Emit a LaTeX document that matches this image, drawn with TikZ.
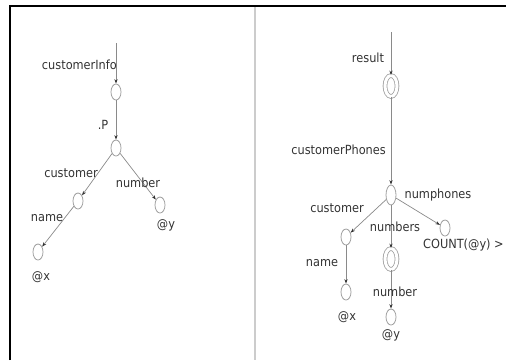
\documentclass[tikz,border=0pt]{standalone}
\usepackage{fontspec}
\setmainfont{DejaVu Sans Condensed}
\usetikzlibrary{shapes.geometric,arrows.meta}
\definecolor{edgegray}{HTML}{8A8A8A}
\definecolor{nodegray}{HTML}{A0A0A0}
\definecolor{textgray}{HTML}{333333}
\definecolor{divgray}{HTML}{CCCCCC}
\tikzset{
  vnode/.style={ellipse, draw=nodegray, line width=0.8pt, fill=white,
    minimum width=10pt, minimum height=16pt, inner sep=0pt},
  dnode/.style={ellipse, draw=nodegray, line width=0.8pt, fill=white,
    double=white, double distance=3pt,
    minimum width=12pt, minimum height=21pt, inner sep=0pt},
  lbl/.style={text=textgray, font=\fontsize{12.6}{14}\selectfont, inner sep=0pt},
  link/.style={draw=edgegray, line width=0.7pt,
    -{Stealth[length=4.5pt,width=3.2pt,color=textgray]}}
}
\begin{document}
\begin{tikzpicture}[x=1pt,y=-1pt]
\useasboundingbox (0,0) rectangle (506,360);
% frame and divider
\draw[divgray, line width=2pt] (255,7) -- (255,360);
\draw[black, line width=2.5pt] (10,360) -- (10,6) -- (506,6);

% ---- left tree ----
\coordinate (lroot) at (116,43);
\node[vnode] (n1) at (116,92) {};
\node[vnode] (n2) at (116,148) {};
\node[vnode] (n3) at (78,201) {};
\node[vnode] (n4) at (160,205) {};
\node[vnode] (n5) at (38,252) {};
\draw[link] (lroot) -- (n1);
\draw[link] (n1) -- (n2);
\draw[link] (n2) -- (n3);
\draw[link] (n2) -- (n4);
\draw[link] (n3) -- (n5);
\node[lbl, anchor=east] (t1) at (117,65) {customerInfo};
\node[lbl] (t2) at (103,125) {.P};
\node[lbl] (t3) at (71,173) {customer};
\node[lbl] (t4) at (138,183) {number};
\node[lbl] (t5) at (47,218) {name};
\node[lbl] (t6) at (166,225) {@y};
\node[lbl] (t7) at (41,277) {@x};

% ---- right tree ----
\coordinate (rroot) at (391,32);
\node[dnode] (r1) at (391,86) {};
\node[vnode, minimum height=20pt] (d) at (391,195) {};
\node[vnode] (rl) at (346,237) {};
\node[dnode] (rm) at (391,259) {};
\node[vnode] (rr) at (445,228) {};
\node[vnode] (rl2) at (346,292) {};
\node[vnode] (rm2) at (391,317) {};
\draw[link] (rroot) -- (r1);
\draw[link] (r1) -- (d);
\draw[link] (d) -- (rl);
\draw[link] (d) -- (rm);
\draw[link] (d) -- (rr);
\draw[link] (rl) -- (rl2);
\draw[link] (rm) -- (rm2);
\node[lbl] (s1) at (368,58) {result};
\node[lbl, anchor=east] (s2) at (386,150) {customerPhones};
\node[lbl] (s3) at (438,195) {numphones};
\node[lbl] (s4) at (337,208) {customer};
\node[lbl] (s5) at (395,227) {numbers};
\node[lbl, anchor=west] (s6) at (423,245) {COUNT(@y) >};
\node[lbl] (s7) at (322,263) {name};
\node[lbl] (s8) at (395,292) {number};
\node[lbl] (s9) at (347,317) {@x};
\node[lbl] (s10) at (391,335) {@y};
\end{tikzpicture}
\end{document}
